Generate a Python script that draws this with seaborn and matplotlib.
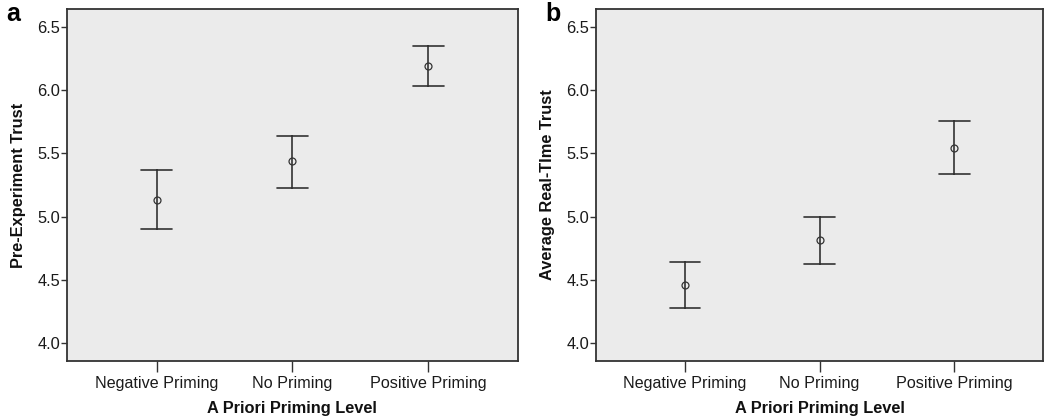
import pandas as pd
import seaborn as sns
import matplotlib.pyplot as plt

# Values (mean and 95% CI bounds)
categories = ["Negative Priming", "No Priming", "Positive Priming"]
pre_mean = [5.13, 5.44, 6.19]
pre_low = [4.90, 5.23, 6.03]
pre_high = [5.37, 5.64, 6.35]
rt_mean = [4.46, 4.815, 5.545]
rt_low = [4.28, 4.63, 5.34]
rt_high = [4.64, 5.00, 5.755]
y_ticks = [4.0, 4.5, 5.0, 5.5, 6.0, 6.5]


def long_table(low, mean, high):
    # three rows per group: median gives the mean, the 100% interval gives the CI
    rows = []
    for cat, lo, m, hi in zip(categories, low, mean, high):
        for v in (lo, m, hi):
            rows.append({"group": cat, "value": v})
    return pd.DataFrame(rows)


sns.set_style("white")
plt.rcParams['font.family'] = ['Liberation Sans', 'DejaVu Sans']

fig = plt.figure(figsize=(10.46, 4.19), dpi=100)
ax_a = fig.add_axes([0.064, 0.138, 0.431, 0.841])
ax_b = fig.add_axes([0.570, 0.138, 0.427, 0.841])

panels = [
    (ax_a, long_table(pre_low, pre_mean, pre_high), "Pre-Experiment Trust", "a"),
    (ax_b, long_table(rt_low, rt_mean, rt_high), "Average Real-TIme Trust", "b"),
]

for ax, df, ylabel, letter in panels:
    sns.pointplot(data=df, x="group", y="value", order=categories,
                  estimator="median", errorbar=("pi", 100),
                  linestyle="none", marker="o", markersize=5,
                  markerfacecolor="none", markeredgewidth=0.9,
                  capsize=0.23, color="#333333",
                  err_kws={"linewidth": 1.2}, ax=ax)
    ax.set_facecolor("#ebebeb")
    ax.set_ylim(3.86, 6.64)
    ax.set_xlim(-0.66, 2.66)
    ax.set_yticks(y_ticks)
    ax.set_yticklabels([f"{t:.1f}" for t in y_ticks])
    ax.set_xlabel("A Priori Priming Level", fontsize=11.8, fontweight="bold",
                  color="#111111", labelpad=7)
    ax.set_ylabel(ylabel, fontsize=11.8, fontweight="bold", color="#111111",
                  labelpad=8)
    ax.tick_params(axis="y", direction="out", length=4, width=1,
                   color="#333333", labelsize=11.8, labelcolor="#1a1a1a", pad=1)
    ax.tick_params(axis="x", direction="out", length=8, width=1,
                   color="#333333", labelsize=11.6, labelcolor="#1a1a1a", pad=3)
    ax.tick_params(left=True, bottom=True)
    for side in ["left", "right", "top", "bottom"]:
        ax.spines[side].set_visible(True)
        ax.spines[side].set_color("#333333")
        ax.spines[side].set_linewidth(1.3)
    ax.grid(False)

fig.text(0.006, 0.995, "a", fontsize=18, fontweight="bold", va="top", ha="left",
         color="black")
fig.text(0.521, 0.995, "b", fontsize=18, fontweight="bold", va="top", ha="left",
         color="black")

fig.savefig("out.png", dpi=100, facecolor="white")
